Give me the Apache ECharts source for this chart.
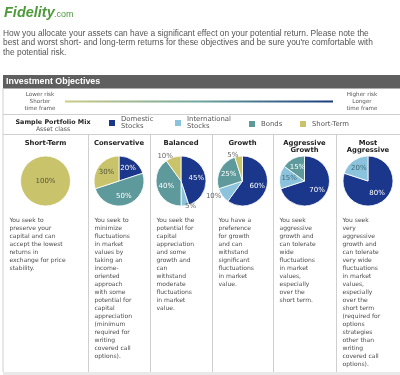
<!DOCTYPE html>
<html>
<head>
<meta charset="utf-8">
<script src="https://cdn.jsdelivr.net/npm/echarts@6/dist/echarts.min.js"></script>
<style>
  html, body { margin: 0; padding: 0; background: #fff; }
  #chart { width: 400px; height: 375px; }
</style>
</head>
<body>
<div id="chart"></div>
<script>
// asset classes and the six sample portfolios
const assetClasses = ['Domestic Stocks', 'International Stocks', 'Bonds', 'Short-Term'];
const objectives = ['Short-Term', 'Conservative', 'Balanced', 'Growth', 'Aggressive\nGrowth', 'Most\nAggressive'];
const domesticStocks = [0, 20, 45, 60, 70, 80];
const internationalStocks = [0, 0, 5, 10, 15, 20];
const bonds = [0, 50, 40, 25, 15, 0];
const shortTerm = [100, 30, 10, 5, 0, 0];

const descriptions = [
  'You seek to\npreserve your\ncapital and can\naccept the lowest\nreturns in\nexchange for price\nstability.',
  'You seek to\nminimize\nfluctuations\nin market\nvalues by\ntaking an\nincome-\noriented\napproach\nwith some\npotential for\ncapital\nappreciation\n(minimum\nrequired for\nwriting\ncovered call\noptions).',
  'You seek the\npotential for\ncapital\nappreciation\nand some\ngrowth and\ncan\nwithstand\nmoderate\nfluctuations\nin market\nvalue.',
  'You have a\npreference\nfor growth\nand can\nwithstand\nsignificant\nfluctuations\nin market\nvalue.',
  'You seek\naggressive\ngrowth and\ncan tolerate\nwide\nfluctuations\nin market\nvalues,\nespecially\nover the\nshort term.',
  'You seek\nvery\naggressive\ngrowth and\ncan tolerate\nvery wide\nfluctuations\nin market\nvalues,\nespecially\nover the\nshort term\n(required for\noptions\nstrategies\nother than\nwriting\ncovered call\noptions).'
];

const assetColors = ['#1b378c', '#8cc3dc', '#5e9a9b', '#c9c46b'];
const insideLabelColors = ['#ffffff', '#3f6b78', '#ffffff', '#55553a'];
const FONT = 'DejaVu Sans';

// column layout
const colLines = [3, 88, 150, 212, 273, 336, 400];
const colCenters = objectives.map((_, i) => (colLines[i] + colLines[i + 1]) / 2);
const pieY = 181;

const valuesByClass = [domesticStocks, internationalStocks, bonds, shortTerm];

const series = objectives.map((obj, i) => {
  const data = [];
  assetClasses.forEach((cls, k) => {
    const v = valuesByClass[k][i];
    if (!v) return;
    let label;
    if (v === 100) label = { position: 'center', color: insideLabelColors[k] };
    else if (v <= 10) label = { position: 'outside', color: '#666', distanceToLabelLine: 0 };
    else label = { position: 'inside', color: insideLabelColors[k] };
    data.push({
      name: cls,
      value: v,
      itemStyle: { color: assetColors[k] },
      label: label,
      labelLine: { show: false, length: 1, length2: 0 }
    });
  });
  return {
    type: 'pie',
    name: 'mix ' + i,
    center: [colCenters[i], pieY],
    radius: 25,
    startAngle: 90,
    clockwise: true,
    avoidLabelOverlap: false,
    animation: false,
    silent: true,
    itemStyle: { borderColor: '#fff', borderWidth: 0.8 },
    label: { formatter: '{c}%', fontSize: 7, fontFamily: FONT },
    data: data
  };
});

// legend positions (one small legend per asset class)
const legendX = [107, 173, 247, 298];
const legends = assetClasses.map((cls, k) => {
  const twoLine = cls.indexOf(' ') >= 0;
  return {
    data: [cls],
    left: legendX[k],
    top: twoLine ? 113.5 : 119,
    padding: 0,
    icon: 'rect',
    itemWidth: 8,
    itemHeight: 8,
    itemStyle: { color: assetColors[k] },
    selectedMode: false,
    formatter: n => n.replace(' ', '\n'),
    textStyle: {
      fontSize: 6.9, fontFamily: FONT, color: '#555', lineHeight: 7,
      padding: twoLine ? [5, 0, 0, 0] : 0
    }
  };
});

const graphics = [];
const txt = (text, x, y, opt) => graphics.push({
  type: 'text', silent: true, z: 10,
  style: Object.assign({ text: text, x: x, y: y, fill: '#555', fontFamily: FONT, fontSize: 6,
    textAlign: 'left', textVerticalAlign: 'middle' }, opt || {})
});
const line = (x1, y1, x2, y2, color, w) => graphics.push({
  type: 'line', silent: true,
  shape: { x1: x1, y1: y1, x2: x2, y2: y2 },
  style: { stroke: color || '#cfcfcf', lineWidth: w || 1 }
});

// logo + intro
txt('Fidelity', 4, 13, { fill: '#4f9a3c', fontFamily: 'Liberation Sans', fontSize: 14.5, fontWeight: 900, fontStyle: 'italic' });
txt('.com', 54, 14.5, { fill: '#4f9a3c', fontFamily: 'Liberation Sans', fontSize: 9 });
txt('How you allocate your assets can have a significant effect on your potential return. Please note the\nbest and worst short- and long-term returns for these objectives and be sure you\'re comfortable with\nthe potential risk.',
  3, 28.5, { fontFamily: 'Liberation Sans', fontSize: 8.4, lineHeight: 9.5, textVerticalAlign: 'top', fill: '#555' });

// header bar
graphics.push({ type: 'rect', silent: true, shape: { x: 3, y: 75, width: 397, height: 13.5 }, style: { fill: '#5f5f5f' } });
txt('Investment Objectives', 6, 82, { fill: '#fff', fontFamily: 'Liberation Sans', fontSize: 8.9, fontWeight: 'bold' });

// risk scale
txt('Lower risk\nShorter\ntime frame', 40, 91.5, { fontSize: 5.6, lineHeight: 7, textAlign: 'center', textVerticalAlign: 'top', fill: '#555' });
txt('Higher risk\nLonger\ntime frame', 362, 91.5, { fontSize: 5.6, lineHeight: 7, textAlign: 'center', textVerticalAlign: 'top', fill: '#555' });
graphics.push({
  type: 'line', silent: true,
  shape: { x1: 65, y1: 101.5, x2: 333, y2: 101.5 },
  style: {
    lineWidth: 2,
    stroke: new echarts.graphic.LinearGradient(0, 0, 1, 0, [
      { offset: 0, color: '#cfcc86' },
      { offset: 0.5, color: '#6fa59c' },
      { offset: 1, color: '#173a7c' }
    ])
  }
});

// grid lines
line(3, 88, 3, 372);
line(3, 114.5, 400, 114.5);
line(3, 134.5, 400, 134.5);
colLines.slice(1, 6).forEach(x => line(x + 0.5, 134, x + 0.5, 372));
graphics.push({ type: 'rect', silent: true, shape: { x: 3, y: 372, width: 397, height: 3 }, style: { fill: '#e9e9e9' } });

// legend caption
txt('Sample Portfolio Mix', 53, 122, { fontSize: 6.4, fontWeight: 'bold', textAlign: 'center', fill: '#222' });
txt('Asset class', 53, 129, { fontSize: 6.2, textAlign: 'center', fill: '#555' });

// column titles and descriptions
objectives.forEach((obj, i) => {
  txt(obj, colCenters[i], 139.5, { fontSize: 6.8, fontWeight: 'bold', textAlign: 'center', textVerticalAlign: 'top', lineHeight: 7, fill: '#222' });
  txt(descriptions[i], colLines[i] + 6.5, 216, { fontSize: 6, lineHeight: 8, textVerticalAlign: 'top', fill: '#4d4d4d' });
});

const chart = echarts.init(document.getElementById('chart'));
chart.setOption({
  backgroundColor: '#fff',
  animation: false,
  legend: legends,
  graphic: graphics,
  series: series
});
</script>
</body>
</html>
